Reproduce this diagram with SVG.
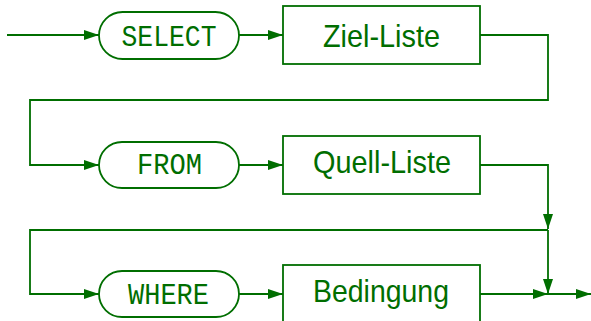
<svg xmlns="http://www.w3.org/2000/svg" width="591" height="321" viewBox="0 0 591 321">
<style>
.shape{fill:#fff;stroke:#006e00;stroke-width:1.8}
.conn{fill:none;stroke:#006e00;stroke-width:1.8}
.kw{font-family:"Liberation Mono","DejaVu Sans Mono",monospace;font-size:30px;fill:#006e00;text-anchor:middle}
.nt{font-family:"Liberation Sans","DejaVu Sans",sans-serif;font-size:32px;fill:#006e00;text-anchor:middle}
</style>
<defs>
<marker id="arr" markerUnits="userSpaceOnUse" markerWidth="15" markerHeight="10" refX="15" refY="5" orient="auto" viewBox="0 0 15 10">
<path d="M0,0 L15,5 L0,10 z" fill="#006e00"/>
</marker>
</defs>
<g id="connectors" class="conn">
<path d="M7,35 H99" marker-end="url(#arr)"/>
<path d="M239,35 H283" marker-end="url(#arr)"/>
<path d="M480,35 H548 V100 H30 V165 H99" marker-end="url(#arr)"/>
<path d="M239,165 H283" marker-end="url(#arr)"/>
<path d="M480,165 H548 V229" marker-end="url(#arr)"/>
<path d="M548,230 H30 V294 H99" marker-end="url(#arr)"/>
<path d="M239,294 H283" marker-end="url(#arr)"/>
<path d="M480,294 H548" marker-end="url(#arr)"/>
<path d="M548,230 V294" marker-end="url(#arr)"/>
<path d="M548,294 H591" marker-end="url(#arr)"/>
</g>
<g id="select">
<rect class="shape" x="99" y="12" width="140" height="47" rx="23.5"/>
<text class="kw" x="169" y="46" textLength="95" lengthAdjust="spacingAndGlyphs">SELECT</text>
</g>
<g id="ziel-liste">
<rect class="shape" x="283" y="6" width="197" height="58"/>
<text class="nt" x="381.5" y="47" textLength="117" lengthAdjust="spacingAndGlyphs">Ziel-Liste</text>
</g>
<g id="from">
<rect class="shape" x="99" y="142" width="140" height="46" rx="23"/>
<text class="kw" x="169.5" y="174" textLength="65" lengthAdjust="spacingAndGlyphs">FROM</text>
</g>
<g id="quell-liste">
<rect class="shape" x="283" y="136" width="197" height="58"/>
<text class="nt" x="382" y="173" textLength="138" lengthAdjust="spacingAndGlyphs">Quell-Liste</text>
</g>
<g id="where">
<rect class="shape" x="99" y="271" width="140" height="46" rx="23"/>
<text class="kw" x="168.5" y="304" textLength="81" lengthAdjust="spacingAndGlyphs">WHERE</text>
</g>
<g id="bedingung">
<rect class="shape" x="283" y="265" width="197" height="58"/>
<text class="nt" x="381" y="302" textLength="136" lengthAdjust="spacingAndGlyphs">Bedingung</text>
</g>
</svg>
